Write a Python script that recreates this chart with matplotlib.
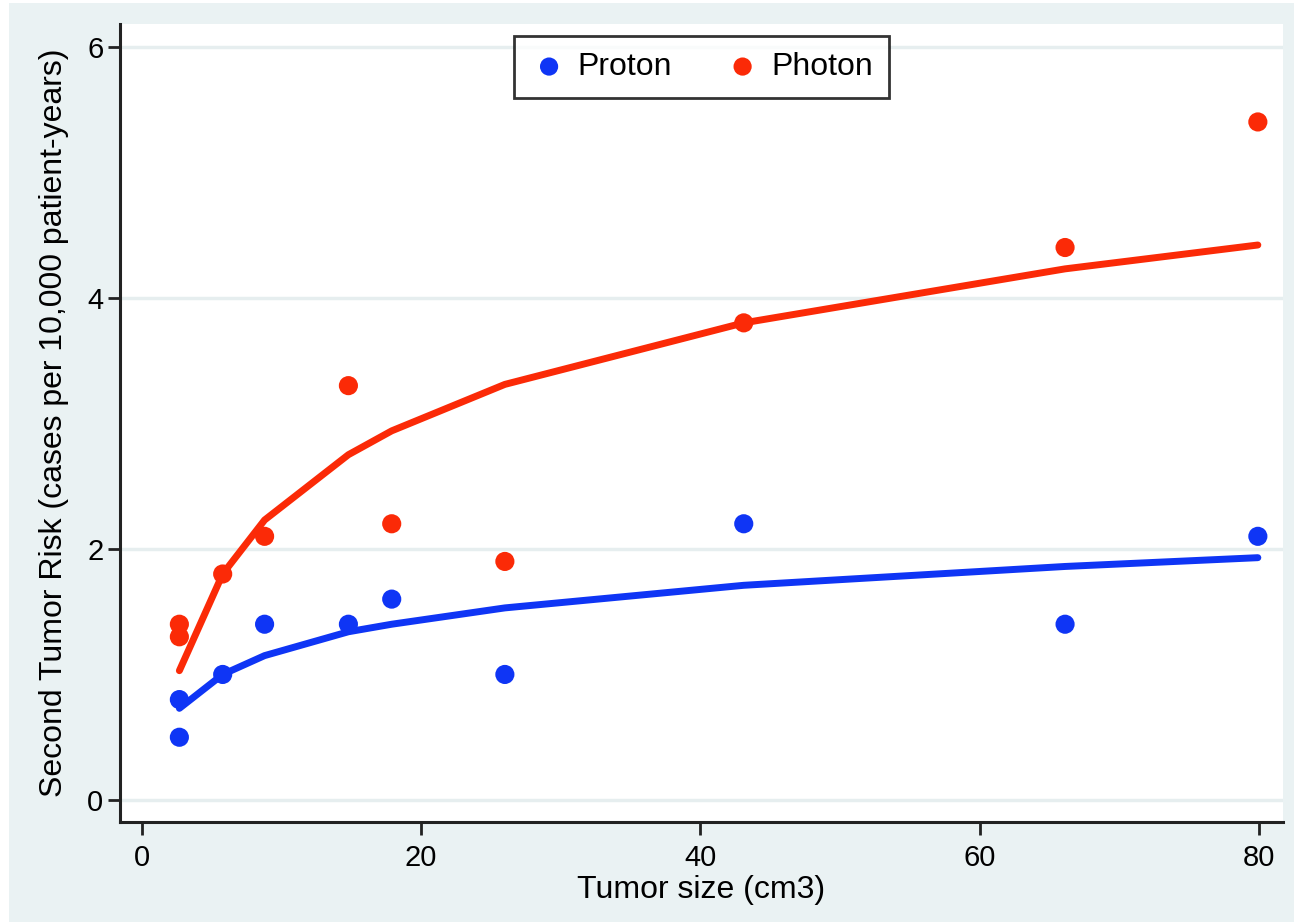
import matplotlib.pyplot as plt
from matplotlib.patches import Rectangle

plt.rcParams['font.family'] = ['Liberation Sans', 'DejaVu Sans']

proton_x = [2.7, 2.7, 5.8, 8.8, 14.8, 17.9, 26.0, 43.1, 66.1, 79.9]
proton_y = [0.8, 0.5, 1.0, 1.4, 1.4, 1.6, 1.0, 2.2, 1.4, 2.1]
photon_x = [2.7, 2.7, 5.8, 8.8, 14.8, 17.9, 26.0, 43.1, 66.1, 79.9]
photon_y = [1.4, 1.3, 1.8, 2.1, 3.3, 2.2, 1.9, 3.8, 4.4, 5.4]

# Fitted curves
fit_x = [2.7, 5.8, 8.8, 14.8, 17.9, 26.0, 43.1, 66.1, 79.9]
proton_fit = [0.73, 1.0, 1.15, 1.34, 1.40, 1.53, 1.71, 1.86, 1.93]
photon_fit = [1.03, 1.80, 2.23, 2.75, 2.94, 3.31, 3.80, 4.23, 4.42]

BLUE = '#0f35f5'
RED = '#fb2a07'
BG = '#eaf2f3'

fig = plt.figure(figsize=(12.94, 9.22), dpi=100, facecolor='white')
fig.patches.append(Rectangle((9 / 1294, 0), 1, 1 - 3 / 922, transform=fig.transFigure,
                             facecolor=BG, edgecolor='none', zorder=-10))

ax = fig.add_axes([120 / 1294, 1 - 822 / 922, 1163 / 1294, 798 / 922])
ax.set_facecolor('white')

ax.plot(fit_x, proton_fit, color=BLUE, lw=5, solid_capstyle='round', zorder=3)
ax.plot(fit_x, photon_fit, color=RED, lw=5, solid_capstyle='round', zorder=3)
ax.scatter(proton_x, proton_y, s=190, color=BLUE, edgecolors='none', zorder=4, label='Proton')
ax.scatter(photon_x, photon_y, s=190, color=RED, edgecolors='none', zorder=4, label='Photon')

ax.set_xlim(-1.55, 81.7)
ax.set_ylim(-0.175, 6.18)
ax.set_xticks([0, 20, 40, 60, 80])
ax.set_yticks([0, 2, 4, 6])
ax.grid(axis='y', color='#e6eeef', lw=2.5)
ax.set_axisbelow(True)

for side in ['top', 'right']:
    ax.spines[side].set_visible(False)
for side in ['left', 'bottom']:
    ax.spines[side].set_linewidth(2.2)
    ax.spines[side].set_color('#222222')

ax.tick_params(axis='both', labelsize=21, width=2, length=9, color='#222222')
ax.tick_params(axis='x', pad=7)
ax.tick_params(axis='y', pad=3)
ax.set_xlabel('Tumor size (cm3)', fontsize=23, labelpad=2)
ax.set_ylabel('Second Tumor Risk (cases per 10,000 patient-years)', fontsize=23, labelpad=13)

leg = ax.legend(loc='upper center', bbox_to_anchor=(0.5, 0.985), ncol=2, fontsize=23,
                frameon=True, fancybox=False, edgecolor='black', handletextpad=0.3,
                columnspacing=1.6, borderpad=0.5, handlelength=1.2, markerscale=0.95,
                borderaxespad=0)
leg.get_frame().set_linewidth(2)

plt.savefig('out.png', dpi=100, facecolor=fig.get_facecolor())
